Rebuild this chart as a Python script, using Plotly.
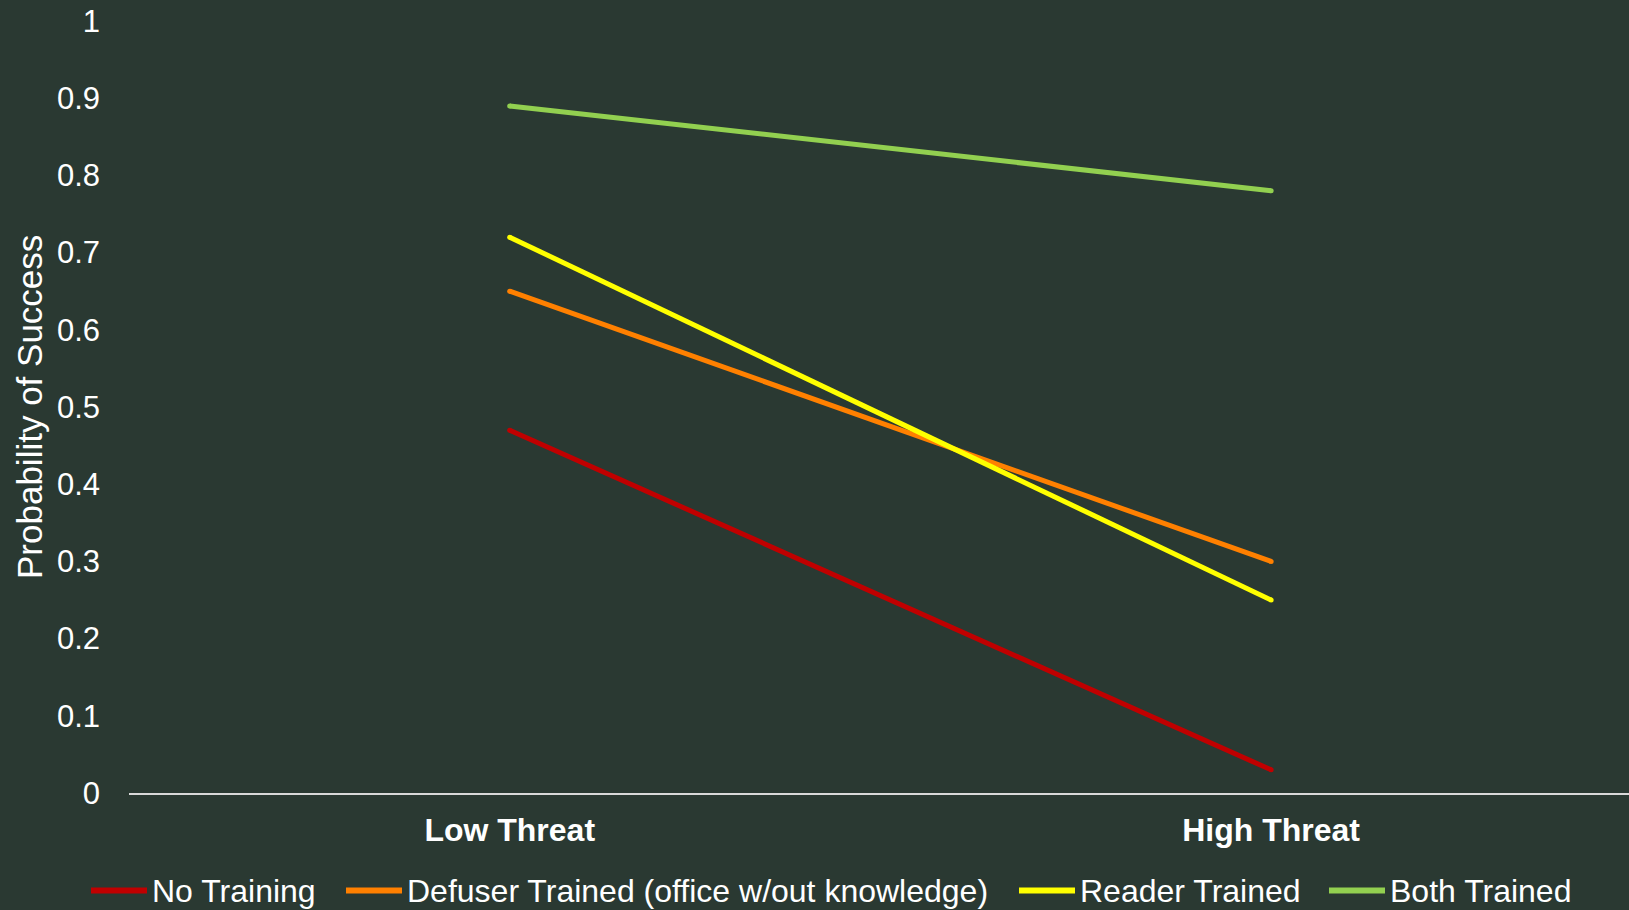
import plotly.graph_objects as go

# Threat conditions on the category axis
conditions = ["Low Threat", "High Threat"]

# Probability of success per training group
no_training = [0.47, 0.03]
defuser_trained = [0.65, 0.30]
reader_trained = [0.72, 0.25]
both_trained = [0.89, 0.78]

series_names = [
    "No Training",
    "Defuser Trained (office w/out knowledge)",
    "Reader Trained",
    "Both Trained",
]
series_values = [no_training, defuser_trained, reader_trained, both_trained]
series_colors = ["#C00000", "#FF8000", "#FFFF00", "#92D050"]

y_ticks = [0, 0.1, 0.2, 0.3, 0.4, 0.5, 0.6, 0.7, 0.8, 0.9, 1]
y_tick_text = ["0", "0.1", "0.2", "0.3", "0.4", "0.5", "0.6", "0.7", "0.8", "0.9", "1"]

BG = "#2A3932"
FONT = "Liberation Sans, Arial, sans-serif"

W, H = 1629, 910
M_L, M_R, M_T, M_B = 129, 0, 21, 117
PLOT_W = W - M_L - M_R
PLOT_H = H - M_T - M_B


def paper_x(px):
    return (px - M_L) / PLOT_W


def paper_y(py):
    return (H - M_B - py) / PLOT_H


fig = go.Figure()
for name, vals, color in zip(series_names, series_values, series_colors):
    # small end markers give the lines rounded caps
    fig.add_trace(go.Scatter(
        x=conditions, y=vals, name=name, mode="lines+markers",
        line=dict(color=color, width=5),
        marker=dict(color=color, size=5, line=dict(width=0)),
        showlegend=False,
    ))

# Legend row below the axis: key line + label for each series
legend_key_left = [91, 346, 1019, 1329]
legend_key_len = 56
legend_row_y = 890.5
shapes = []
annotations = []
for name, color, left in zip(series_names, series_colors, legend_key_left):
    shapes.append(dict(
        type="line", xref="paper", yref="paper",
        x0=paper_x(left), x1=paper_x(left + legend_key_len),
        y0=paper_y(legend_row_y), y1=paper_y(legend_row_y),
        line=dict(color=color, width=6),
    ))
    annotations.append(dict(
        text=name, xref="paper", yref="paper",
        x=paper_x(left + legend_key_len + 3), y=paper_y(legend_row_y),
        xanchor="left", yanchor="middle", showarrow=False,
        font=dict(family=FONT, size=32, color="white"),
    ))

annotations.append(dict(
    text="Probability of Success", xref="paper", yref="paper",
    x=paper_x(29), y=0.5, xanchor="center", yanchor="middle",
    textangle=-90, showarrow=False,
    font=dict(family=FONT, size=35, color="white"),
))

fig.update_layout(
    width=W, height=H,
    paper_bgcolor=BG, plot_bgcolor=BG,
    margin=dict(l=M_L, r=M_R, t=M_T, b=M_B),
    font=dict(family=FONT, color="white", size=31),
    showlegend=False,
    shapes=shapes,
    annotations=annotations,
)

fig.update_xaxes(
    type="category", range=[-0.5, 1.47],
    showgrid=False, zeroline=False,
    showline=True, linecolor="#D9D9D9", linewidth=2,
    ticks="", ticklabelstandoff=8,
    tickfont=dict(family=FONT, size=32, color="white", weight="bold"),
)
fig.update_yaxes(
    range=[0, 1], tickvals=y_ticks, ticktext=y_tick_text,
    showgrid=False, zeroline=False, showline=False,
    ticks="", ticklabelstandoff=28,
    tickfont=dict(family=FONT, size=31, color="white"),
)

fig.write_html("out.html")
